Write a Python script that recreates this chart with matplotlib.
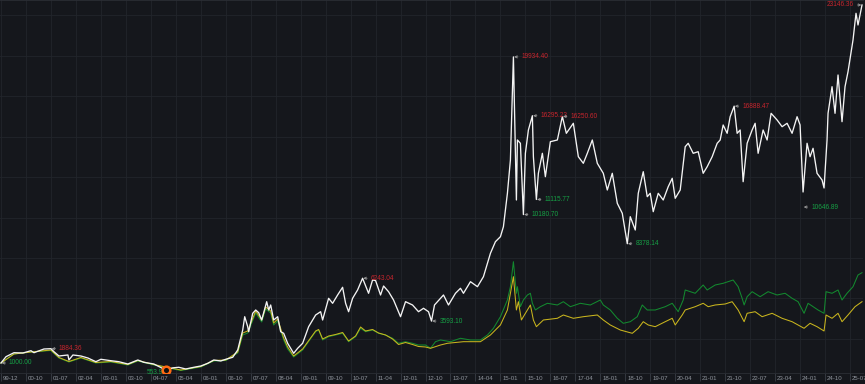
import matplotlib
matplotlib.use('Agg')
import matplotlib.pyplot as plt
from matplotlib.transforms import ScaledTranslation

# ---------------- data (x = bar index of the trading-day axis, ~25 bars per 9 months) ----------------
tick_labels = ['99-12', '00-10', '01-07', '02-04', '03-01', '03-10', '04-07', '05-04', '06-01',
               '06-10', '07-07', '08-04', '09-01', '09-10', '10-07', '11-04', '12-01', '12-10',
               '13-07', '14-04', '15-01', '15-10', '16-07', '17-04', '18-01', '18-10', '19-07',
               '20-04', '21-01', '21-10', '22-07', '23-04', '24-01', '24-10', '25-07']
bars_per_tick = 25

white_bar = [0, 5, 13, 22, 30, 33, 43, 50, 53, 58, 67, 68, 72, 80, 87, 95, 100, 110, 118, 127, 137,
             143, 153, 160, 165, 172, 178, 185, 193, 200, 207, 213, 220, 225, 232, 237, 242, 244,
             247, 248, 252, 255, 258, 261, 266, 268, 270, 273, 277, 280, 283, 287, 293, 297, 302,
             308, 315, 320, 322, 328, 332, 337, 342, 345, 348, 352, 357, 362, 368, 372, 375, 380,
             383, 388, 393, 400, 405, 412, 418, 423, 428, 431, 434, 443, 448, 455, 460, 463, 470,
             477, 483, 490, 495, 500, 503, 507, 510, 513, 516, 517, 520, 523, 525, 528, 532, 533,
             536, 538, 542, 545, 550, 557, 562, 566, 573, 578, 583, 587, 592, 597, 603, 607, 612,
             617, 622, 627, 630, 635, 638, 643, 647, 650, 653, 658, 663, 668, 672, 675, 680, 685,
             688, 693, 698, 703, 707, 712, 717, 720, 723, 727, 730, 734, 737, 740, 743, 747, 752,
             755, 758, 763, 767, 771, 777, 782, 787, 792, 797, 800, 803, 807, 810, 813, 817, 822,
             824, 827, 828, 832, 835, 838, 842, 845, 848, 853, 856, 858, 861, 862]
white_val = [1000, 1390, 1637, 1619, 1761, 1637, 1866, 1884.36, 1699, 1433, 1495, 1186, 1495, 1433,
             1309, 1080, 1229, 1142, 1080, 938, 1186, 1043, 938, 720, 553.94, 700, 734, 629, 734,
             814, 981, 1186, 1124, 1229, 1353, 1804, 3041, 3864, 3246, 2936, 4074, 4279, 4112,
             3660, 4792, 4279, 4588, 3660, 3864, 2936, 2837, 2219, 1600, 1909, 2219, 3246, 3969,
             4173, 3660, 5002, 4693, 5206, 5683, 4693, 4173, 5002, 5516, 6243.04, 5312, 6134,
             6100, 5206, 5763, 5411, 4897, 3864, 4792, 4588, 4173, 4384, 4173, 3593.10, 4588,
             5206, 4588, 5312, 5621, 5312, 6029, 5720, 6339, 7786, 8504, 8813, 9432, 11498,
             13558, 19934.40, 11083, 14795, 14591, 10180.70, 13972, 15413, 16295.23, 13762,
             11115.77, 12735, 13972, 12525, 14690, 14795, 16250.60, 15209, 15828, 13762, 13353,
             13972, 14795, 13353, 12735, 11702, 12735, 10879, 10260, 8378.14, 10050, 9227, 11498,
             12834, 11287, 11498, 10360, 11498, 11083, 11906, 12425, 11188, 11702, 14380, 14591,
             13972, 14071, 12735, 13143, 13762, 14591, 14795, 15723, 15209, 16236, 16888.47,
             15209, 15413, 12215, 14591, 15413, 15828, 13972, 15413, 14795, 16446, 16032, 15617,
             15828, 15209, 16236, 15723, 11578, 14591, 13762, 14282, 12735, 12320, 11826, 14795,
             16446, 18092, 16446, 18816, 15927, 18092, 19020, 20981, 22632, 21909, 22837, 23146.36]

green_bar = [0, 13, 30, 50, 58, 68, 80, 95, 110, 127, 137, 153, 165, 180, 200, 213, 225, 237, 242,
             247, 255, 261, 265, 270, 273, 277, 283, 287, 293, 302, 315, 318, 322, 328, 335, 342,
             348, 355, 360, 365, 372, 378, 385, 392, 398, 405, 412, 418, 425, 430, 435, 440, 450,
             460, 470, 480, 487, 493, 500, 507, 510, 513, 516, 517, 520, 523, 527, 530, 532, 535,
             540, 547, 557, 563, 570, 580, 590, 600, 603, 610, 617, 623, 630, 637, 642, 647, 655,
             665, 672, 678, 683, 685, 695, 703, 707, 715, 723, 733, 738, 742, 744, 747, 752, 760,
             768, 777, 785, 792, 798, 804, 808, 818, 824, 826, 832, 838, 842, 847, 853, 858, 862]
green_val = [1000, 1557, 1680, 1773, 1309, 1062, 1309, 1000, 1062, 876, 1124, 876, 722, 536, 753,
             1124, 1155, 1619, 2732, 2856, 4093, 3536, 4340, 4093, 3351, 3598, 2423, 1866, 1371,
             1804, 2936, 3041, 2423, 2627, 2732, 2837, 2318, 2627, 3147, 2936, 3041, 2837, 2732,
             2528, 2219, 2318, 2219, 2113, 2113, 1909, 2318, 2423, 2318, 2528, 2423, 2423, 2732,
             3147, 3864, 4897, 5720, 7266, 5312, 5720, 4483, 4897, 5206, 5312, 4693, 4279, 4483,
             4693, 4588, 4792, 4483, 4693, 4588, 4897, 4588, 4279, 3765, 3456, 3555, 3864, 4588,
             4279, 4279, 4483, 4693, 4173, 4897, 5516, 5312, 5825, 5516, 5825, 5930, 6134, 5720,
             5002, 4588, 5101, 5411, 5101, 5411, 5206, 5312, 5002, 4792, 4074, 4693, 4279, 4074,
             5411, 5312, 5516, 4897, 5312, 5720, 6444, 6586]

yellow_bar = [0, 13, 30, 50, 58, 68, 80, 95, 110, 127, 137, 153, 165, 180, 200, 213, 225, 237, 242,
              247, 255, 261, 265, 270, 273, 277, 283, 287, 293, 302, 315, 318, 322, 328, 335, 342,
              348, 355, 360, 365, 372, 378, 385, 392, 398, 405, 412, 418, 425, 430, 440, 447, 463,
              480, 490, 500, 507, 513, 516, 518, 521, 527, 530, 533, 536, 543, 557, 563, 573, 583,
              597, 603, 610, 620, 632, 638, 643, 648, 655, 665, 672, 675, 682, 685, 695, 703, 708,
              715, 725, 732, 738, 744, 747, 755, 762, 772, 782, 792, 798, 804, 810, 817, 824, 826,
              832, 838, 842, 848, 855, 862]
yellow_val = [1000, 1557, 1680, 1804, 1340, 1093, 1340, 1031, 1093, 907, 1155, 907, 753, 567, 783,
              1155, 1186, 1680, 2856, 2980, 4217, 3660, 4464, 4217, 3474, 3722, 2547, 1990, 1433,
              1866, 2980, 3072, 2485, 2670, 2763, 2887, 2361, 2670, 3227, 2980, 3072, 2856, 2732,
              2485, 2144, 2268, 2144, 2021, 1990, 1909, 2113, 2219, 2318, 2318, 2732, 3351, 4279,
              6339, 4279, 4792, 3660, 4279, 4588, 3660, 3246, 3660, 3765, 3969, 3765, 3864, 3969,
              3660, 3351, 3041, 2837, 3147, 3555, 3351, 3246, 3555, 3765, 3351, 3969, 4279, 4483,
              4693, 4483, 4588, 4650, 4792, 4279, 3555, 4074, 4173, 3864, 4074, 3765, 3555, 3351,
              3147, 3456, 3246, 2980, 3969, 3765, 4074, 3555, 3969, 4483, 4792]

# extreme-value tags on the main (white) series
tag_bar = [0, 50, 165, 362, 431, 513, 523, 532, 536, 562, 627, 734, 803, 862]
tag_val = [1000.00, 1884.36, 553.94, 6243.04, 3593.10, 19934.40, 10180.70, 16295.23, 11115.77,
           16250.60, 8378.14, 16888.47, 10646.89, 23146.36]
tag_kind = ['lo', 'hi', 'lo', 'hi', 'lo', 'hi', 'lo', 'hi', 'lo', 'hi', 'lo', 'hi', 'lo', 'hi']
marker_bar = 165
marker_val = 553.94

# ---------------- style ----------------
BG = '#15171c'
GRID = '#22252b'
plt.rcParams['font.family'] = ['Liberation Sans', 'DejaVu Sans']

fig = plt.figure(figsize=(8.65, 3.84), dpi=100, facecolor=BG)
ax = fig.add_axes([0, 11 / 384, 863 / 865, 373 / 384], facecolor=BG)

ax.plot(green_bar, green_val, color='#13892f', lw=0.75, zorder=3)
ax.plot(yellow_bar, yellow_val, color='#c9b51e', lw=0.75, zorder=4)
ax.plot(white_bar, white_val, color='#f4f4f4', lw=0.95, zorder=5)

ax.plot([marker_bar], [marker_val], marker='o', ms=5.5, mfc='#111111', mec='#ff6a13',
        mew=1.8, zorder=7)

for b, v, k in zip(tag_bar, tag_val, tag_kind):
    col = '#c7252d' if k == 'hi' else '#16a045'
    txt = f'{v:.2f}'
    if b == marker_bar:
        ax.annotate(txt, xy=(b, v), xytext=(-9, -2), textcoords='offset pixels',
                    ha='center', va='center', color=col, fontsize=4.7, zorder=6)
    elif b == white_bar[-1]:
        ax.annotate(txt, xy=(b, v), xytext=(-8, 0), textcoords='offset pixels',
                    ha='right', va='center', color=col, fontsize=4.7, zorder=6,
                    arrowprops=dict(arrowstyle='->', color='#9a9a9a', lw=0.6,
                                    shrinkA=0.5, shrinkB=0.5, mutation_scale=4))
    else:
        ax.annotate(txt, xy=(b, v), xytext=(8, 0), textcoords='offset pixels',
                    ha='left', va='center', color=col, fontsize=4.7, zorder=6,
                    arrowprops=dict(arrowstyle='->', color='#9a9a9a', lw=0.6,
                                    shrinkA=0.5, shrinkB=0.5, mutation_scale=4))

ax.set_xlim(-1, 863)
ax.set_ylim(381, 23455)

ticks = [i * bars_per_tick for i in range(len(tick_labels))]
ax.set_xticks(ticks)
ax.set_xticklabels(tick_labels)
ax.set_yticks([2500, 5000, 7500, 10000, 12500, 15000, 17500, 20000, 22500])
ax.tick_params(axis='y', left=False, labelleft=False)
ax.tick_params(axis='x', direction='out', length=6, width=0.6, color='#3a3e46',
               labelsize=4.4, labelcolor='#8e939b', pad=-4)
shift = ScaledTranslation(2 / 100, 0, fig.dpi_scale_trans)
for lab in ax.get_xticklabels():
    lab.set_ha('left')
    lab.set_transform(lab.get_transform() + shift)

ax.grid(True, color=GRID, lw=0.6, zorder=0)
for s in ['left', 'right']:
    ax.spines[s].set_visible(False)
for s in ['top', 'bottom']:
    ax.spines[s].set_color('#2b2e35')
    ax.spines[s].set_linewidth(0.6)

fig.savefig('out.png', dpi=100, facecolor=BG)
